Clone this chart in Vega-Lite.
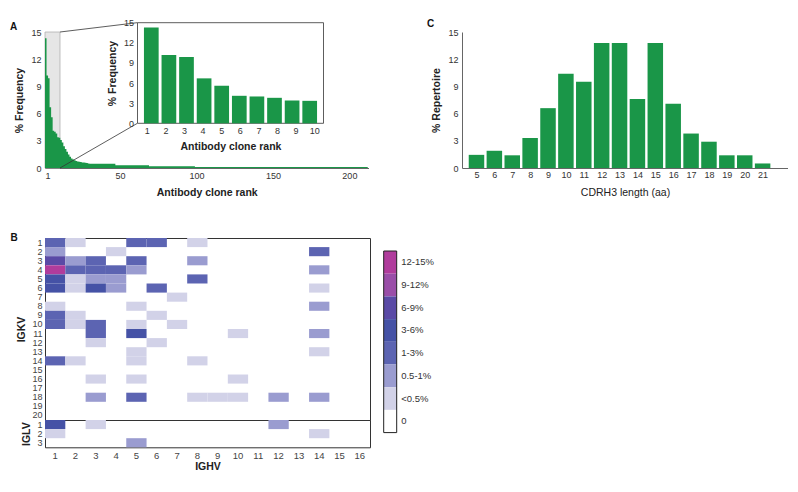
{
  "$schema": "https://vega.github.io/schema/vega-lite/v6.json",
  "background": "white",
  "padding": {"left": 10, "top": 18, "right": 0, "bottom": 0},
  "config": {
    "font": "Liberation Sans",
    "view": {"stroke": null},
    "axis": {"labelFont": "Liberation Sans", "titleFont": "Liberation Sans", "labelColor": "#333", "titleColor": "#222", "labelFontSize": 9, "titleFontSize": 10.5, "grid": false, "domainColor": "#666", "ticks": false, "labelPadding": 4, "labelOverlap": false}
  },
  "datasets": {
    "clones": [
      {"rank": 1, "pct": 14.3}, {"rank": 2, "pct": 10.2}, {"rank": 3, "pct": 9.9}, {"rank": 4, "pct": 6.7}, {"rank": 5, "pct": 5.6},
      {"rank": 6, "pct": 4.1}, {"rank": 7, "pct": 4.0}, {"rank": 8, "pct": 3.8}, {"rank": 9, "pct": 3.4}, {"rank": 10, "pct": 3.35},
      {"rank": 11, "pct": 3.1}, {"rank": 12, "pct": 2.8}, {"rank": 13, "pct": 2.4}, {"rank": 14, "pct": 2.1}, {"rank": 15, "pct": 1.8},
      {"rank": 16, "pct": 1.5}, {"rank": 17, "pct": 1.25}, {"rank": 18, "pct": 1.05}, {"rank": 19, "pct": 0.95}, {"rank": 20, "pct": 0.85},
      {"rank": 21, "pct": 0.78}, {"rank": 22, "pct": 0.72}, {"rank": 23, "pct": 0.68}, {"rank": 24, "pct": 0.65}, {"rank": 25, "pct": 0.62},
      {"rank": 26, "pct": 0.6}, {"rank": 27, "pct": 0.57}, {"rank": 28, "pct": 0.54}, {"rank": 29, "pct": 0.51}, {"rank": 30, "pct": 0.48},
      {"rank": 31, "pct": 0.48}, {"rank": 32, "pct": 0.48}, {"rank": 33, "pct": 0.48}, {"rank": 34, "pct": 0.48}, {"rank": 35, "pct": 0.48},
      {"rank": 36, "pct": 0.48}, {"rank": 37, "pct": 0.48}, {"rank": 38, "pct": 0.48}, {"rank": 39, "pct": 0.48}, {"rank": 40, "pct": 0.48},
      {"rank": 41, "pct": 0.48}, {"rank": 42, "pct": 0.48}, {"rank": 43, "pct": 0.48}, {"rank": 44, "pct": 0.48}, {"rank": 45, "pct": 0.48},
      {"rank": 46, "pct": 0.48}, {"rank": 47, "pct": 0.3}, {"rank": 48, "pct": 0.3}, {"rank": 49, "pct": 0.3}, {"rank": 50, "pct": 0.3},
      {"rank": 51, "pct": 0.3}, {"rank": 52, "pct": 0.3}, {"rank": 53, "pct": 0.3}, {"rank": 54, "pct": 0.3}, {"rank": 55, "pct": 0.3},
      {"rank": 56, "pct": 0.3}, {"rank": 57, "pct": 0.3}, {"rank": 58, "pct": 0.3}, {"rank": 59, "pct": 0.3}, {"rank": 60, "pct": 0.3},
      {"rank": 61, "pct": 0.3}, {"rank": 62, "pct": 0.3}, {"rank": 63, "pct": 0.3}, {"rank": 64, "pct": 0.3}, {"rank": 65, "pct": 0.3},
      {"rank": 66, "pct": 0.3}, {"rank": 67, "pct": 0.3}, {"rank": 68, "pct": 0.3}, {"rank": 69, "pct": 0.2}, {"rank": 70, "pct": 0.2},
      {"rank": 71, "pct": 0.2}, {"rank": 72, "pct": 0.2}, {"rank": 73, "pct": 0.2}, {"rank": 74, "pct": 0.2}, {"rank": 75, "pct": 0.2},
      {"rank": 76, "pct": 0.2}, {"rank": 77, "pct": 0.2}, {"rank": 78, "pct": 0.2}, {"rank": 79, "pct": 0.2}, {"rank": 80, "pct": 0.2},
      {"rank": 81, "pct": 0.2}, {"rank": 82, "pct": 0.2}, {"rank": 83, "pct": 0.2}, {"rank": 84, "pct": 0.2}, {"rank": 85, "pct": 0.2},
      {"rank": 86, "pct": 0.2}, {"rank": 87, "pct": 0.2}, {"rank": 88, "pct": 0.2}, {"rank": 89, "pct": 0.2}, {"rank": 90, "pct": 0.2},
      {"rank": 91, "pct": 0.2}, {"rank": 92, "pct": 0.2}, {"rank": 93, "pct": 0.2}, {"rank": 94, "pct": 0.2}, {"rank": 95, "pct": 0.2},
      {"rank": 96, "pct": 0.2}, {"rank": 97, "pct": 0.2}, {"rank": 98, "pct": 0.2}, {"rank": 99, "pct": 0.1}, {"rank": 100, "pct": 0.1},
      {"rank": 101, "pct": 0.1}, {"rank": 102, "pct": 0.1}, {"rank": 103, "pct": 0.1}, {"rank": 104, "pct": 0.1}, {"rank": 105, "pct": 0.1},
      {"rank": 106, "pct": 0.1}, {"rank": 107, "pct": 0.1}, {"rank": 108, "pct": 0.1}, {"rank": 109, "pct": 0.1}, {"rank": 110, "pct": 0.1},
      {"rank": 111, "pct": 0.1}, {"rank": 112, "pct": 0.1}, {"rank": 113, "pct": 0.1}, {"rank": 114, "pct": 0.1}, {"rank": 115, "pct": 0.1},
      {"rank": 116, "pct": 0.1}, {"rank": 117, "pct": 0.1}, {"rank": 118, "pct": 0.1}, {"rank": 119, "pct": 0.1}, {"rank": 120, "pct": 0.1},
      {"rank": 121, "pct": 0.1}, {"rank": 122, "pct": 0.1}, {"rank": 123, "pct": 0.1}, {"rank": 124, "pct": 0.1}, {"rank": 125, "pct": 0.1},
      {"rank": 126, "pct": 0.1}, {"rank": 127, "pct": 0.1}, {"rank": 128, "pct": 0.1}, {"rank": 129, "pct": 0.1}, {"rank": 130, "pct": 0.1},
      {"rank": 131, "pct": 0.1}, {"rank": 132, "pct": 0.1}, {"rank": 133, "pct": 0.1}, {"rank": 134, "pct": 0.1}, {"rank": 135, "pct": 0.1},
      {"rank": 136, "pct": 0.1}, {"rank": 137, "pct": 0.1}, {"rank": 138, "pct": 0.1}, {"rank": 139, "pct": 0.1}, {"rank": 140, "pct": 0.1},
      {"rank": 141, "pct": 0.1}, {"rank": 142, "pct": 0.1}, {"rank": 143, "pct": 0.1}, {"rank": 144, "pct": 0.1}, {"rank": 145, "pct": 0.1},
      {"rank": 146, "pct": 0.1}, {"rank": 147, "pct": 0.1}, {"rank": 148, "pct": 0.1}, {"rank": 149, "pct": 0.1}, {"rank": 150, "pct": 0.1},
      {"rank": 151, "pct": 0.1}, {"rank": 152, "pct": 0.1}, {"rank": 153, "pct": 0.1}, {"rank": 154, "pct": 0.1}, {"rank": 155, "pct": 0.1},
      {"rank": 156, "pct": 0.1}, {"rank": 157, "pct": 0.1}, {"rank": 158, "pct": 0.1}, {"rank": 159, "pct": 0.1}, {"rank": 160, "pct": 0.1},
      {"rank": 161, "pct": 0.1}, {"rank": 162, "pct": 0.1}, {"rank": 163, "pct": 0.1}, {"rank": 164, "pct": 0.1}, {"rank": 165, "pct": 0.1},
      {"rank": 166, "pct": 0.1}, {"rank": 167, "pct": 0.1}, {"rank": 168, "pct": 0.1}, {"rank": 169, "pct": 0.1}, {"rank": 170, "pct": 0.1},
      {"rank": 171, "pct": 0.1}, {"rank": 172, "pct": 0.1}, {"rank": 173, "pct": 0.1}, {"rank": 174, "pct": 0.1}, {"rank": 175, "pct": 0.1},
      {"rank": 176, "pct": 0.1}, {"rank": 177, "pct": 0.1}, {"rank": 178, "pct": 0.1}, {"rank": 179, "pct": 0.1}, {"rank": 180, "pct": 0.1},
      {"rank": 181, "pct": 0.1}, {"rank": 182, "pct": 0.1}, {"rank": 183, "pct": 0.1}, {"rank": 184, "pct": 0.1}, {"rank": 185, "pct": 0.1},
      {"rank": 186, "pct": 0.1}, {"rank": 187, "pct": 0.1}, {"rank": 188, "pct": 0.1}, {"rank": 189, "pct": 0.1}, {"rank": 190, "pct": 0.1},
      {"rank": 191, "pct": 0.1}, {"rank": 192, "pct": 0.1}, {"rank": 193, "pct": 0.1}, {"rank": 194, "pct": 0.1}, {"rank": 195, "pct": 0.1},
      {"rank": 196, "pct": 0.1}, {"rank": 197, "pct": 0.1}, {"rank": 198, "pct": 0.1}, {"rank": 199, "pct": 0.1}, {"rank": 200, "pct": 0.1},
      {"rank": 201, "pct": 0.1}, {"rank": 202, "pct": 0.1}, {"rank": 203, "pct": 0.1}, {"rank": 204, "pct": 0.1}, {"rank": 205, "pct": 0.1},
      {"rank": 206, "pct": 0.1}, {"rank": 207, "pct": 0.1}, {"rank": 208, "pct": 0.1}, {"rank": 209, "pct": 0.1}, {"rank": 210, "pct": 0.1},
      {"rank": 211, "pct": 0.1}, {"rank": 212, "pct": 0.1}
    ],
    "zoombox": [{"x1": 1, "x2": 10.8, "y1": 0, "y2": 15}],
    "links": [
      {"x1": 10.8, "y1": 15, "x2": 61.4, "y2": 16.03},
      {"x1": 10.8, "y1": 0, "x2": 61.4, "y2": 4.93}
    ],
    "insetframe": [{"x1": 0.5, "x2": 10.5, "y1": 0, "y2": 15}],
    "cdr": [
      {"len": 5, "pct": 1.45}, {"len": 6, "pct": 1.9}, {"len": 7, "pct": 1.4}, {"len": 8, "pct": 3.3},
      {"len": 9, "pct": 6.6}, {"len": 10, "pct": 10.4}, {"len": 11, "pct": 9.5}, {"len": 12, "pct": 13.8},
      {"len": 13, "pct": 13.8}, {"len": 14, "pct": 7.6}, {"len": 15, "pct": 13.8}, {"len": 16, "pct": 7.1},
      {"len": 17, "pct": 3.8}, {"len": 18, "pct": 2.9}, {"len": 19, "pct": 1.4}, {"len": 20, "pct": 1.4}, {"len": 21, "pct": 0.5}
    ],
    "heat": [
      {"chain": "IGKV", "v": 1, "h": 1, "cat": "1-3%"}, {"chain": "IGKV", "v": 1, "h": 2, "cat": "<0.5%"}, {"chain": "IGKV", "v": 1, "h": 5, "cat": "1-3%"}, {"chain": "IGKV", "v": 1, "h": 6, "cat": "1-3%"}, {"chain": "IGKV", "v": 1, "h": 8, "cat": "<0.5%"},
      {"chain": "IGKV", "v": 2, "h": 1, "cat": "0.5-1%"}, {"chain": "IGKV", "v": 2, "h": 4, "cat": "<0.5%"}, {"chain": "IGKV", "v": 2, "h": 14, "cat": "1-3%"},
      {"chain": "IGKV", "v": 3, "h": 1, "cat": "6-9%"}, {"chain": "IGKV", "v": 3, "h": 2, "cat": "0.5-1%"}, {"chain": "IGKV", "v": 3, "h": 3, "cat": "1-3%"}, {"chain": "IGKV", "v": 3, "h": 5, "cat": "1-3%"}, {"chain": "IGKV", "v": 3, "h": 8, "cat": "0.5-1%"},
      {"chain": "IGKV", "v": 4, "h": 1, "cat": "12-15%"}, {"chain": "IGKV", "v": 4, "h": 2, "cat": "1-3%"}, {"chain": "IGKV", "v": 4, "h": 3, "cat": "1-3%"}, {"chain": "IGKV", "v": 4, "h": 4, "cat": "1-3%"}, {"chain": "IGKV", "v": 4, "h": 5, "cat": "0.5-1%"}, {"chain": "IGKV", "v": 4, "h": 14, "cat": "0.5-1%"},
      {"chain": "IGKV", "v": 5, "h": 1, "cat": "3-6%"}, {"chain": "IGKV", "v": 5, "h": 2, "cat": "<0.5%"}, {"chain": "IGKV", "v": 5, "h": 3, "cat": "0.5-1%"}, {"chain": "IGKV", "v": 5, "h": 4, "cat": "0.5-1%"}, {"chain": "IGKV", "v": 5, "h": 8, "cat": "1-3%"},
      {"chain": "IGKV", "v": 6, "h": 1, "cat": "3-6%"}, {"chain": "IGKV", "v": 6, "h": 2, "cat": "<0.5%"}, {"chain": "IGKV", "v": 6, "h": 3, "cat": "3-6%"}, {"chain": "IGKV", "v": 6, "h": 4, "cat": "0.5-1%"}, {"chain": "IGKV", "v": 6, "h": 6, "cat": "1-3%"}, {"chain": "IGKV", "v": 6, "h": 14, "cat": "<0.5%"},
      {"chain": "IGKV", "v": 7, "h": 7, "cat": "<0.5%"},
      {"chain": "IGKV", "v": 8, "h": 1, "cat": "<0.5%"}, {"chain": "IGKV", "v": 8, "h": 5, "cat": "<0.5%"}, {"chain": "IGKV", "v": 8, "h": 14, "cat": "0.5-1%"},
      {"chain": "IGKV", "v": 9, "h": 1, "cat": "1-3%"}, {"chain": "IGKV", "v": 9, "h": 2, "cat": "<0.5%"}, {"chain": "IGKV", "v": 9, "h": 6, "cat": "<0.5%"},
      {"chain": "IGKV", "v": 10, "h": 1, "cat": "1-3%"}, {"chain": "IGKV", "v": 10, "h": 2, "cat": "<0.5%"}, {"chain": "IGKV", "v": 10, "h": 3, "cat": "1-3%"}, {"chain": "IGKV", "v": 10, "h": 5, "cat": "<0.5%"}, {"chain": "IGKV", "v": 10, "h": 7, "cat": "<0.5%"},
      {"chain": "IGKV", "v": 11, "h": 3, "cat": "1-3%"}, {"chain": "IGKV", "v": 11, "h": 5, "cat": "3-6%"}, {"chain": "IGKV", "v": 11, "h": 10, "cat": "<0.5%"}, {"chain": "IGKV", "v": 11, "h": 14, "cat": "0.5-1%"},
      {"chain": "IGKV", "v": 12, "h": 3, "cat": "<0.5%"}, {"chain": "IGKV", "v": 12, "h": 6, "cat": "<0.5%"},
      {"chain": "IGKV", "v": 13, "h": 5, "cat": "<0.5%"}, {"chain": "IGKV", "v": 13, "h": 14, "cat": "<0.5%"},
      {"chain": "IGKV", "v": 14, "h": 1, "cat": "1-3%"}, {"chain": "IGKV", "v": 14, "h": 2, "cat": "<0.5%"}, {"chain": "IGKV", "v": 14, "h": 5, "cat": "<0.5%"}, {"chain": "IGKV", "v": 14, "h": 8, "cat": "<0.5%"},
      {"chain": "IGKV", "v": 16, "h": 3, "cat": "<0.5%"}, {"chain": "IGKV", "v": 16, "h": 5, "cat": "<0.5%"}, {"chain": "IGKV", "v": 16, "h": 10, "cat": "<0.5%"},
      {"chain": "IGKV", "v": 18, "h": 3, "cat": "0.5-1%"}, {"chain": "IGKV", "v": 18, "h": 5, "cat": "1-3%"}, {"chain": "IGKV", "v": 18, "h": 8, "cat": "<0.5%"}, {"chain": "IGKV", "v": 18, "h": 9, "cat": "<0.5%"}, {"chain": "IGKV", "v": 18, "h": 10, "cat": "<0.5%"}, {"chain": "IGKV", "v": 18, "h": 12, "cat": "0.5-1%"}, {"chain": "IGKV", "v": 18, "h": 14, "cat": "0.5-1%"},
      {"chain": "IGLV", "v": 1, "h": 1, "cat": "3-6%"}, {"chain": "IGLV", "v": 1, "h": 3, "cat": "<0.5%"}, {"chain": "IGLV", "v": 1, "h": 12, "cat": "0.5-1%"},
      {"chain": "IGLV", "v": 2, "h": 1, "cat": "<0.5%"}, {"chain": "IGLV", "v": 2, "h": 14, "cat": "<0.5%"},
      {"chain": "IGLV", "v": 3, "h": 5, "cat": "0.5-1%"}
    ],
    "legend": [
      {"cat": "12-15%"}, {"cat": "9-12%"}, {"cat": "6-9%"}, {"cat": "3-6%"}, {"cat": "1-3%"}, {"cat": "0.5-1%"}, {"cat": "<0.5%"}, {"cat": "0"}
    ],
    "one": [{}]
  },
  "vconcat": [
    {
      "hconcat": [
        {
          "width": 323.5,
          "height": 136,
          "title": {"text": "A", "anchor": "start", "frame": "group", "dx": -35, "dy": 13, "fontSize": 10, "fontWeight": "bold", "offset": 0, "color": "#111"},
          "layer": [
            {
              "data": {"name": "zoombox"},
              "mark": {"type": "rect", "fill": "#e6e6e6", "stroke": "#b0b0b0", "strokeWidth": 0.8},
              "encoding": {
                "x": {"field": "x1", "type": "quantitative", "scale": {"domain": [1, 212.5], "nice": false, "zero": false},
                      "axis": {"values": [1, 50, 100, 150, 200], "labelOverlap": false, "labelSeparation": -40, "labelBound": false, "labelPadding": 3, "title": "Antibody clone rank", "titleFontWeight": "bold", "titlePadding": 7}},
                "x2": {"field": "x2"},
                "y": {"field": "y1", "type": "quantitative", "scale": {"domain": [0, 15], "nice": false},
                      "axis": {"values": [0, 3, 6, 9, 12, 15], "labelOverlap": false, "labelSeparation": -40, "labelBound": false, "title": "% Frequency", "titleFontWeight": "bold", "titlePadding": 6}},
                "y2": {"field": "y2"}
              }
            },
            {
              "data": {"name": "clones"},
              "mark": {"type": "area", "interpolate": "step-after", "color": "#1a9648"},
              "encoding": {
                "x": {"field": "rank", "type": "quantitative", "scale": {"domain": [1, 212.5], "nice": false, "zero": false}, "axis": null},
                "y": {"field": "pct", "type": "quantitative", "scale": {"domain": [0, 15], "nice": false}, "axis": null}
              }
            },
            {
              "data": {"name": "links"},
              "mark": {"type": "rule", "color": "#333", "strokeWidth": 0.8, "clip": false},
              "encoding": {
                "x": {"field": "x1", "type": "quantitative", "scale": {"domain": [1, 212.5], "nice": false, "zero": false}, "axis": null},
                "x2": {"field": "x2"},
                "y": {"field": "y1", "type": "quantitative", "scale": {"domain": [0, 15], "nice": false}, "axis": null},
                "y2": {"field": "y2"}
              }
            },
            {
              "data": {"name": "insetframe"},
              "mark": {"type": "rect", "fill": "white", "stroke": "#333", "strokeWidth": 0.8},
              "encoding": {
                "x": {"field": "x1", "type": "quantitative", "scale": {"domain": [0.5, 10.5], "range": [92.5, 278.5], "nice": false, "zero": false},
                      "axis": {"orient": "bottom", "offset": -44.7, "domain": false, "values": [1, 2, 3, 4, 5, 6, 7, 8, 9, 10], "labelOverlap": false, "labelSeparation": -40, "labelBound": false, "labelPadding": 3, "title": "Antibody clone rank", "titleFontWeight": "bold", "titlePadding": 6}},
                "x2": {"field": "x2"},
                "y": {"field": "y1", "type": "quantitative", "scale": {"domain": [0, 15], "range": [91.3, -9.3], "nice": false},
                      "axis": {"orient": "left", "offset": -92.5, "domain": false, "values": [0, 3, 6, 9, 12, 15], "labelOverlap": false, "labelSeparation": -40, "labelBound": false, "title": "% Frequency", "titleFontWeight": "bold", "titlePadding": 6}},
                "y2": {"field": "y2"}
              }
            },
            {
              "data": {"name": "clones"},
              "transform": [{"filter": "datum.rank <= 10"}],
              "mark": {"type": "bar", "size": 14.7, "color": "#1a9648"},
              "encoding": {
                "x": {"field": "rank", "type": "quantitative", "scale": {"domain": [0.5, 10.5], "range": [92.5, 278.5], "nice": false, "zero": false}, "axis": null},
                "y": {"field": "pct", "type": "quantitative", "scale": {"domain": [0, 15], "range": [91.3, -9.3], "nice": false}, "axis": null}
              }
            }
          ],
          "resolve": {"scale": {"x": "independent", "y": "independent"}, "axis": {"x": "independent", "y": "independent"}}
        },
        {
          "width": 326,
          "height": 136,
          "title": {"text": "C", "anchor": "start", "frame": "group", "dx": -35, "dy": 3, "fontSize": 10, "fontWeight": "bold", "offset": 2, "color": "#111"},
          "data": {"name": "cdr"},
          "mark": {"type": "bar", "size": 15.5, "color": "#1a9648"},
          "encoding": {
            "x": {"field": "len", "type": "quantitative", "scale": {"domain": [4.47, 22.14], "nice": false, "zero": false},
                  "axis": {"values": [5, 6, 7, 8, 9, 10, 11, 12, 13, 14, 15, 16, 17, 18, 19, 20, 21], "labelOverlap": false, "labelPadding": 2, "title": "CDRH3 length (aa)", "titleFontWeight": "normal", "titlePadding": 8.5}},
            "y": {"field": "pct", "type": "quantitative", "scale": {"domain": [0, 15], "nice": false},
                  "axis": {"values": [0, 3, 6, 9, 12, 15], "labelOverlap": false, "title": "% Repertoire", "titleFontWeight": "bold", "titlePadding": 6}}
          }
        }
      ],
      "spacing": 58
    },
    {
      "vconcat": [
        {
          "width": 325,
          "height": 182,
          "title": {"text": "B", "anchor": "start", "frame": "group", "dx": -34.5, "dy": 5, "fontSize": 10, "fontWeight": "bold", "offset": 0.5, "color": "#111"},
          "view": {"stroke": "#333", "strokeWidth": 1},
          "layer": [
            {
              "data": {"name": "heat"},
              "transform": [{"filter": "datum.chain === 'IGKV'"}],
              "mark": {"type": "rect"},
              "encoding": {
                "x": {"field": "h", "type": "ordinal", "scale": {"domain": [1, 2, 3, 4, 5, 6, 7, 8, 9, 10, 11, 12, 13, 14, 15, 16]}, "axis": null},
                "y": {"field": "v", "type": "ordinal", "scale": {"domain": [1, 2, 3, 4, 5, 6, 7, 8, 9, 10, 11, 12, 13, 14, 15, 16, 17, 18, 19, 20]},
                      "axis": {"title": "IGKV", "titleFontWeight": "bold", "labelFontSize": 9, "labelColor": "#444", "labelPadding": 3, "titlePadding": 5, "domain": false}},
                "color": {"field": "cat", "type": "nominal", "legend": null,
                          "scale": {"domain": ["0", "<0.5%", "0.5-1%", "1-3%", "3-6%", "6-9%", "9-12%", "12-15%"],
                                    "range": ["#ffffff", "#d2d2e8", "#9a9cd0", "#5c64b2", "#4552a6", "#5a4aa6", "#9a4ea8", "#b03c9c"]}}
              }
            },
            {
              "data": {"name": "legend"},
              "mark": {"type": "rect"},
              "encoding": {
                "x": {"datum": "colorbar", "type": "nominal", "scale": {"range": [338.7, 351.7], "paddingInner": 0, "paddingOuter": 0}, "axis": null},
                "y": {"field": "cat", "type": "nominal", "sort": ["12-15%", "9-12%", "6-9%", "3-6%", "1-3%", "0.5-1%", "<0.5%", "0"],
                      "scale": {"range": [13, 194.6], "paddingInner": 0, "paddingOuter": 0},
                      "axis": {"orient": "right", "offset": 26.7, "title": null, "domain": false, "labelPadding": 4, "labelFontSize": 9.5}},
                "color": {"field": "cat", "type": "nominal", "legend": null}
              }
            },
            {
              "data": {"name": "one"},
              "mark": {"type": "rect", "fill": null, "stroke": "#222", "strokeWidth": 1},
              "encoding": {
                "x": {"datum": 0, "type": "quantitative", "scale": {"domain": [0, 1], "range": [338.7, 351.7], "nice": false}, "axis": null},
                "x2": {"datum": 1},
                "y": {"datum": 0, "type": "quantitative", "scale": {"domain": [0, 1], "range": [194.6, 13], "nice": false}, "axis": null},
                "y2": {"datum": 1}
              }
            }
          ],
          "resolve": {"scale": {"x": "independent", "y": "independent"}, "axis": {"x": "independent", "y": "independent"}}
        },
        {
          "width": 325,
          "height": 27.3,
          "view": {"stroke": "#333", "strokeWidth": 1},
          "data": {"name": "heat"},
          "transform": [{"filter": "datum.chain === 'IGLV'"}],
          "mark": {"type": "rect"},
          "encoding": {
            "x": {"field": "h", "type": "ordinal", "scale": {"domain": [1, 2, 3, 4, 5, 6, 7, 8, 9, 10, 11, 12, 13, 14, 15, 16]},
                  "axis": {"title": "IGHV", "titleFontWeight": "bold", "labelFontSize": 9.5, "labelColor": "#444", "labelAngle": 0, "labelPadding": 3, "titlePadding": 2, "domain": false}},
            "y": {"field": "v", "type": "ordinal", "scale": {"domain": [1, 2, 3]},
                  "axis": {"title": "IGLV", "titleFontWeight": "bold", "labelFontSize": 9, "labelColor": "#444", "labelPadding": 3, "titlePadding": 5, "domain": false}},
            "color": {"field": "cat", "type": "nominal", "legend": null,
                      "scale": {"domain": ["0", "<0.5%", "0.5-1%", "1-3%", "3-6%", "6-9%", "9-12%", "12-15%"],
                                "range": ["#ffffff", "#d2d2e8", "#9a9cd0", "#5c64b2", "#4552a6", "#5a4aa6", "#9a4ea8", "#b03c9c"]}}
          }
        }
      ],
      "spacing": 0,
      "bounds": "flush"
    }
  ],
  "spacing": 34
}
